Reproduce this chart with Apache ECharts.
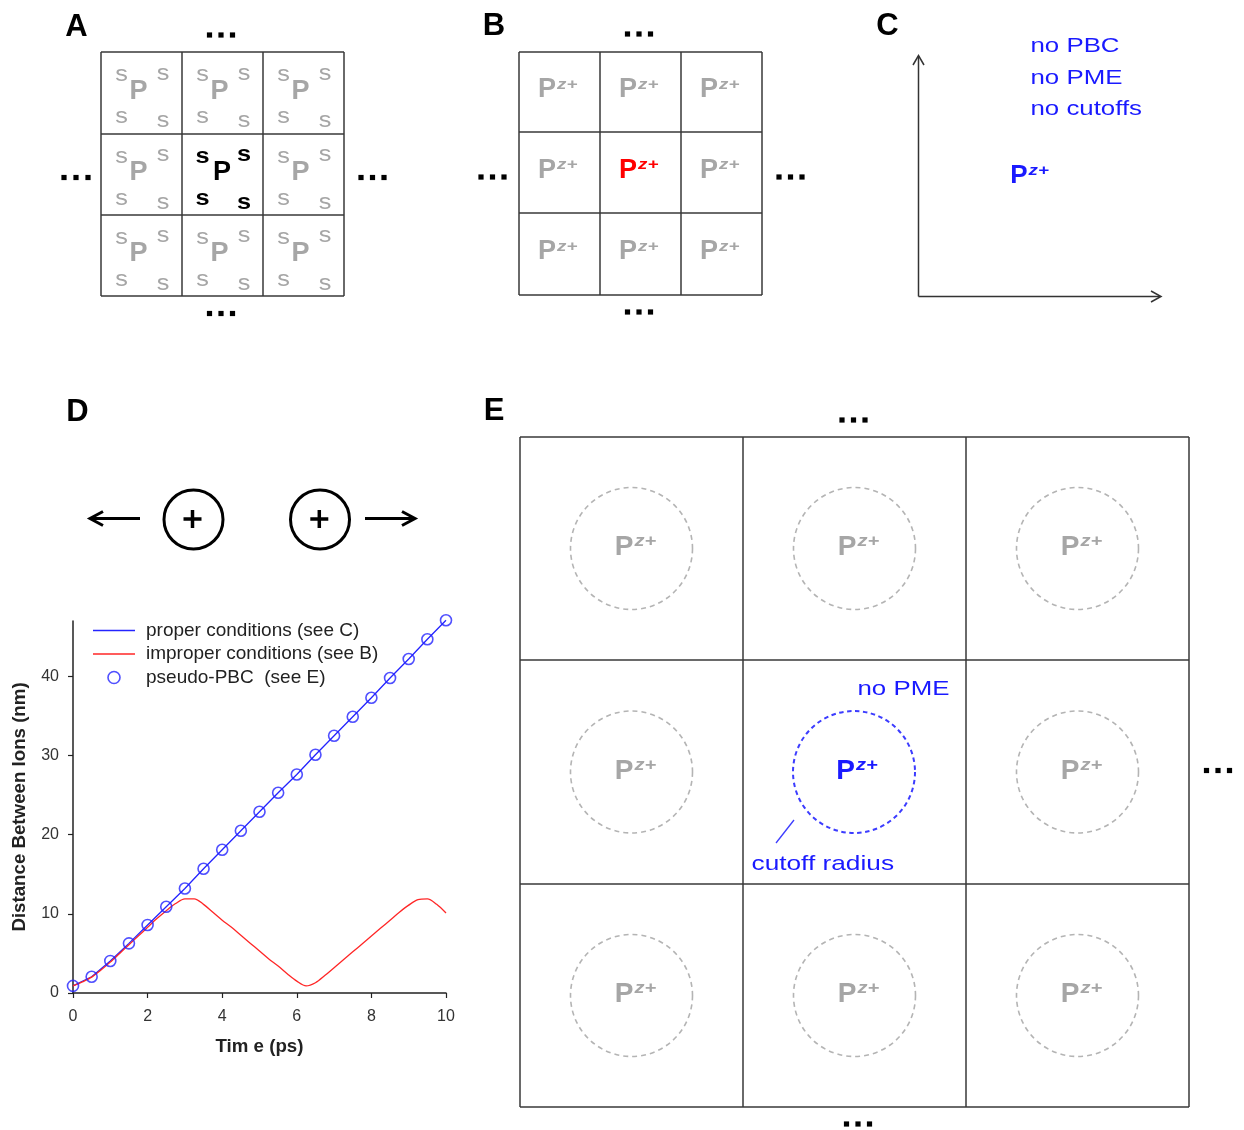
<!DOCTYPE html>
<html>
<head>
<meta charset="utf-8">
<script src="https://cdn.jsdelivr.net/npm/echarts@6/dist/echarts.min.js"></script>
<style>
html,body{margin:0;padding:0;background:#fff;}
#chart{width:1244px;height:1130px;}
</style>
</head>
<body>
<div id="chart"></div>
<script>
// ---------- data (panel D) ----------
const timePoints = [0, 0.5, 1, 1.5, 2, 2.5, 3, 3.5, 4, 4.5, 5, 5.5, 6, 6.5, 7, 7.5, 8, 8.5, 9, 9.5, 10];
const properValues = [0.9, 2.05, 4.05, 6.27, 8.6, 10.9, 13.2, 15.7, 18.1, 20.5, 22.9, 25.3, 27.6, 30.1, 32.5, 34.9, 37.3, 39.8, 42.2, 44.7, 47.1];
const pseudoPbcValues = [0.9, 2.05, 4.05, 6.27, 8.6, 10.9, 13.2, 15.7, 18.1, 20.5, 22.9, 25.3, 27.6, 30.1, 32.5, 34.9, 37.3, 39.8, 42.2, 44.7, 47.1];
const improperTime = [0, 0.25, 0.5, 0.75, 1, 1.25, 1.5, 1.75, 2, 2.25, 2.5, 2.75, 3, 3.25, 3.5, 3.75, 4, 4.25, 4.5, 4.75, 5, 5.25, 5.5, 5.75, 6, 6.25, 6.5, 6.75, 7, 7.25, 7.5, 7.75, 8, 8.25, 8.5, 8.75, 9, 9.25, 9.5, 9.75, 10];
const improperValues = [0.9, 1.4, 2.0, 2.9, 3.9, 5.0, 6.1, 7.2, 8.3, 9.4, 10.4, 11.3, 11.9, 11.9, 11.2, 10.2, 9.2, 8.3, 7.3, 6.3, 5.3, 4.3, 3.4, 2.4, 1.5, 0.9, 1.3, 2.2, 3.2, 4.2, 5.2, 6.2, 7.2, 8.2, 9.2, 10.2, 11.1, 11.8, 11.9, 11.2, 10.1];
const xTicks = [0, 2, 4, 6, 8, 10];
const yTicks = [0, 10, 20, 30, 40];
const seriesNames = ['proper conditions (see C)', 'improper conditions (see B)', 'pseudo-PBC  (see E)'];
const xTitle = 'Tim e (ps)';
const yTitle = 'Distance Between Ions (nm)';
const panelLetters = ['A', 'B', 'C', 'D', 'E'];
const panelCNotes = ['no PBC', 'no PME', 'no cutoffs'];
const panelENotes = ['no PME', 'cutoff radius'];

// ---------- drawing helpers ----------
const FF = '"Liberation Sans", Arial, sans-serif';
const G = [];
function txt(x, y, s, style, extra) {
  G.push(Object.assign({type: 'text', x: x, y: y, silent: true,
    style: Object.assign({text: s, fill: '#000', font: '16px ' + FF, align: 'center', verticalAlign: 'middle'}, style)}, extra || {}));
}
function line(x1, y1, x2, y2, stroke, w) {
  G.push({type: 'line', silent: true, shape: {x1, y1, x2, y2}, style: {stroke: stroke, lineWidth: w}});
}
function poly(points, stroke, w) {
  G.push({type: 'polyline', silent: true, shape: {points: points}, style: {stroke: stroke, lineWidth: w, fill: null}});
}
function circ(cx, cy, r, stroke, w, dash) {
  G.push({type: 'circle', silent: true, shape: {cx, cy, r}, style: {fill: null, stroke: stroke, lineWidth: w, lineDash: dash || null}});
}
function dot(cx, cy) {
  G.push({type: 'rect', silent: true, shape: {x: cx - 2.6, y: cy - 2.6, width: 5.2, height: 5.2}, style: {fill: '#000'}});
}
function dots(xs, y) { xs.forEach(function (x) { dot(x, y); }); }
function grid3(xs, ys, stroke, w) {
  xs.forEach(function (x) { line(x, ys[0], x, ys[3], stroke, w); });
  ys.forEach(function (y) { line(xs[0], y, xs[3], y, stroke, w); });
}
function pz(jx, py, color, ps, ss) {
  txt(jx, py, 'P', {fill: color, font: 'bold ' + ps + 'px ' + FF, align: 'right'});
  txt(jx + 1, py - ps * 0.2, 'z+', {fill: color, font: 'italic bold ' + ss + 'px ' + FF, align: 'left'}, {scaleX: 1.25});
}
const LINE = '#383838';

// panel letters
const letterPos = [[76.5, 27], [494, 26], [887.5, 26], [77.5, 412], [494, 411]];
panelLetters.forEach(function (l, i) {
  txt(letterPos[i][0], letterPos[i][1], l, {font: 'bold 31px ' + FF});
});

// ---------- panel A ----------
const aX = [101, 182, 263, 344], aY = [52, 134, 215, 296];
grid3(aX, aY, LINE, 1.5);
for (let r = 0; r < 3; r++) {
  for (let c = 0; c < 3; c++) {
    const cx = (aX[c] + aX[c + 1]) / 2, cy = (aY[r] + aY[r + 1]) / 2;
    const center = (r === 1 && c === 1);
    const col = center ? '#000' : '#a6a6a6';
    const sFont = (center ? 'bold ' : '') + '22px ' + FF;
    const sc = {scaleX: 1.15};
    txt(cx - 20, cy - 18, 's', {fill: col, font: sFont}, sc);
    txt(cx + 21.5, cy - 19.5, 's', {fill: col, font: sFont}, sc);
    txt(cx - 20, cy + 24, 's', {fill: col, font: sFont}, sc);
    txt(cx + 21.5, cy + 28, 's', {fill: col, font: sFont}, sc);
    txt(cx + (center ? -0.5 : -3), cy - 1.5, 'P', {fill: col, font: 'bold 27px ' + FF});
  }
}
dots([209.5, 221, 232.5], 35);
dots([64, 76, 88], 177.5);
dots([361, 372.5, 384], 177.5);
dots([209.5, 221, 232.5], 313.5);

// ---------- panel B ----------
const bX = [519, 600, 681, 762], bY = [52, 132, 213, 295];
grid3(bX, bY, LINE, 1.5);
for (let r = 0; r < 3; r++) {
  for (let c = 0; c < 3; c++) {
    const cx = (bX[c] + bX[c + 1]) / 2, cy = (bY[r] + bY[r + 1]) / 2;
    const center = (r === 1 && c === 1);
    pz(cx - 3.5, cy - 2, center ? '#ff0000' : '#a6a6a6', 27, 15);
  }
}
dots([627.5, 639, 650.5], 34);
dots([481, 492.5, 504], 177);
dots([779, 790.5, 802], 177);
dots([627.5, 639, 650.5], 312);

// ---------- panel C ----------
line(918.5, 56, 918.5, 296.5, '#333', 1.5);
line(918.5, 296.5, 1160, 296.5, '#333', 1.5);
poly([[913, 65], [918.5, 55.5], [924, 65]], '#333', 1.5);
poly([[1151, 291], [1161, 296.5], [1151, 302]], '#333', 1.5);
const BLUE_T = '#1a1aff';
[46, 78, 109.5].forEach(function (y, i) {
  txt(1030.5, y, panelCNotes[i], {fill: BLUE_T, font: '21px ' + FF, align: 'left'}, {scaleX: 1.23});
});
pz(1027.5, 176, BLUE_T, 26, 15);

// ---------- panel D diagram ----------
poly([[103, 511.5], [90, 518.5], [103, 525.5]], '#000', 3);
line(90.5, 518.5, 140, 518.5, '#000', 3);
poly([[402, 511.5], [415, 518.5], [402, 525.5]], '#000', 3);
line(365, 518.5, 414.5, 518.5, '#000', 3);
[[193.5, 192.5], [320, 319.3]].forEach(function (p) {
  circ(p[0], 519.5, 29.5, '#000', 3);
  line(p[1] - 9, 519, p[1] + 9, 519, '#000', 3.5);
  line(p[1], 510, p[1], 528, '#000', 3.5);
});

// ---------- panel E ----------
const eX = [520, 743, 966, 1189], eY = [437, 660, 884, 1107];
grid3(eX, eY, LINE, 1.5);
for (let r = 0; r < 3; r++) {
  for (let c = 0; c < 3; c++) {
    const cx = (eX[c] + eX[c + 1]) / 2, cy = (eY[r] + eY[r + 1]) / 2;
    const center = (r === 1 && c === 1);
    if (center) {
      circ(cx - 0.5, cy, 61, '#3c3cff', 2, [4.5, 3.5]);
      pz(cx + 0.5, cy - 1, BLUE_T, 28, 16);
    } else {
      circ(cx, cy, 61, '#b4b4b4', 1.6, [5, 4]);
      pz(cx + 2, cy - 1, '#a6a6a6', 28, 16);
    }
  }
}
txt(857.5, 689, panelENotes[0], {fill: BLUE_T, font: '21px ' + FF, align: 'left'}, {scaleX: 1.23});
txt(751.5, 864, panelENotes[1], {fill: BLUE_T, font: '21px ' + FF, align: 'left'}, {scaleX: 1.25});
line(794, 820, 776, 843, '#3c3cff', 1.3);
dots([842, 853.5, 865], 420);
dots([1206.5, 1218, 1229.5], 770.5);
dots([846.5, 858, 869.5], 1124);

// ---------- chart option ----------
const BLUE = '#2424ff', RED = '#ff2626';
const option = {
  animation: false,
  backgroundColor: '#ffffff',
  textStyle: {fontFamily: FF},
  grid: {left: 73, top: 621, width: 373, height: 372, containLabel: false},
  legend: {
    orient: 'vertical', left: 93, top: 621, padding: 0,
    itemWidth: 42, itemHeight: 12, itemGap: 4.5,
    textStyle: {fontSize: 19, color: '#222', fontFamily: FF, padding: [0, 0, 0, 6]},
    data: [
      {name: seriesNames[0], icon: 'path://M0,0H42V1.3H0Z', itemStyle: {color: BLUE, borderWidth: 0}},
      {name: seriesNames[1], icon: 'path://M0,0H42V1.3H0Z', itemStyle: {color: RED, borderWidth: 0}},
      {name: seriesNames[2], icon: 'circle', itemStyle: {color: 'rgba(0,0,0,0)', borderColor: BLUE, borderWidth: 1.6}}
    ]
  },
  xAxis: {
    type: 'value', min: 0, max: 10, interval: 2,
    name: xTitle, nameLocation: 'middle', nameGap: 44,
    nameTextStyle: {fontWeight: 'bold', fontSize: 18.7, color: '#222', fontFamily: FF},
    axisLine: {lineStyle: {color: '#222', width: 1.5}},
    axisTick: {show: true, length: 5, lineStyle: {color: '#222', width: 1.2}, customValues: xTicks},
    axisLabel: {color: '#333', fontSize: 16, margin: 16, customValues: xTicks, fontFamily: FF},
    splitLine: {show: false}
  },
  yAxis: {
    type: 'value', min: 0, max: 47, interval: 10,
    name: yTitle, nameLocation: 'middle', nameGap: 44,
    nameTextStyle: {fontWeight: 'bold', fontSize: 18.7, color: '#222', fontFamily: FF},
    axisLine: {show: true, lineStyle: {color: '#222', width: 1.5}},
    axisTick: {show: true, length: 5, lineStyle: {color: '#222', width: 1.2}, customValues: yTicks},
    axisLabel: {color: '#333', fontSize: 16, margin: 14, customValues: yTicks, fontFamily: FF},
    splitLine: {show: false}
  },
  series: [
    {
      name: seriesNames[0], type: 'line', symbol: 'none', silent: true, clip: false,
      data: timePoints.map(function (t, i) { return [t, properValues[i]]; }),
      lineStyle: {color: BLUE, width: 1.3}, itemStyle: {color: BLUE}, z: 2
    },
    {
      name: seriesNames[1], type: 'line', symbol: 'none', silent: true, smooth: 0.3,
      data: improperTime.map(function (t, i) { return [t, improperValues[i]]; }),
      lineStyle: {color: RED, width: 1.3}, itemStyle: {color: RED}, z: 3
    },
    {
      name: seriesNames[2], type: 'scatter', symbol: 'circle', symbolSize: 11, silent: true, clip: false,
      data: timePoints.map(function (t, i) { return [t, pseudoPbcValues[i]]; }),
      itemStyle: {color: 'rgba(0,0,0,0)', borderColor: BLUE, borderWidth: 1.6}, z: 4
    }
  ],
  graphic: {elements: G}
};
const chart = echarts.init(document.getElementById('chart'), null, {renderer: 'canvas'});
chart.setOption(option);
</script>
</body>
</html>
